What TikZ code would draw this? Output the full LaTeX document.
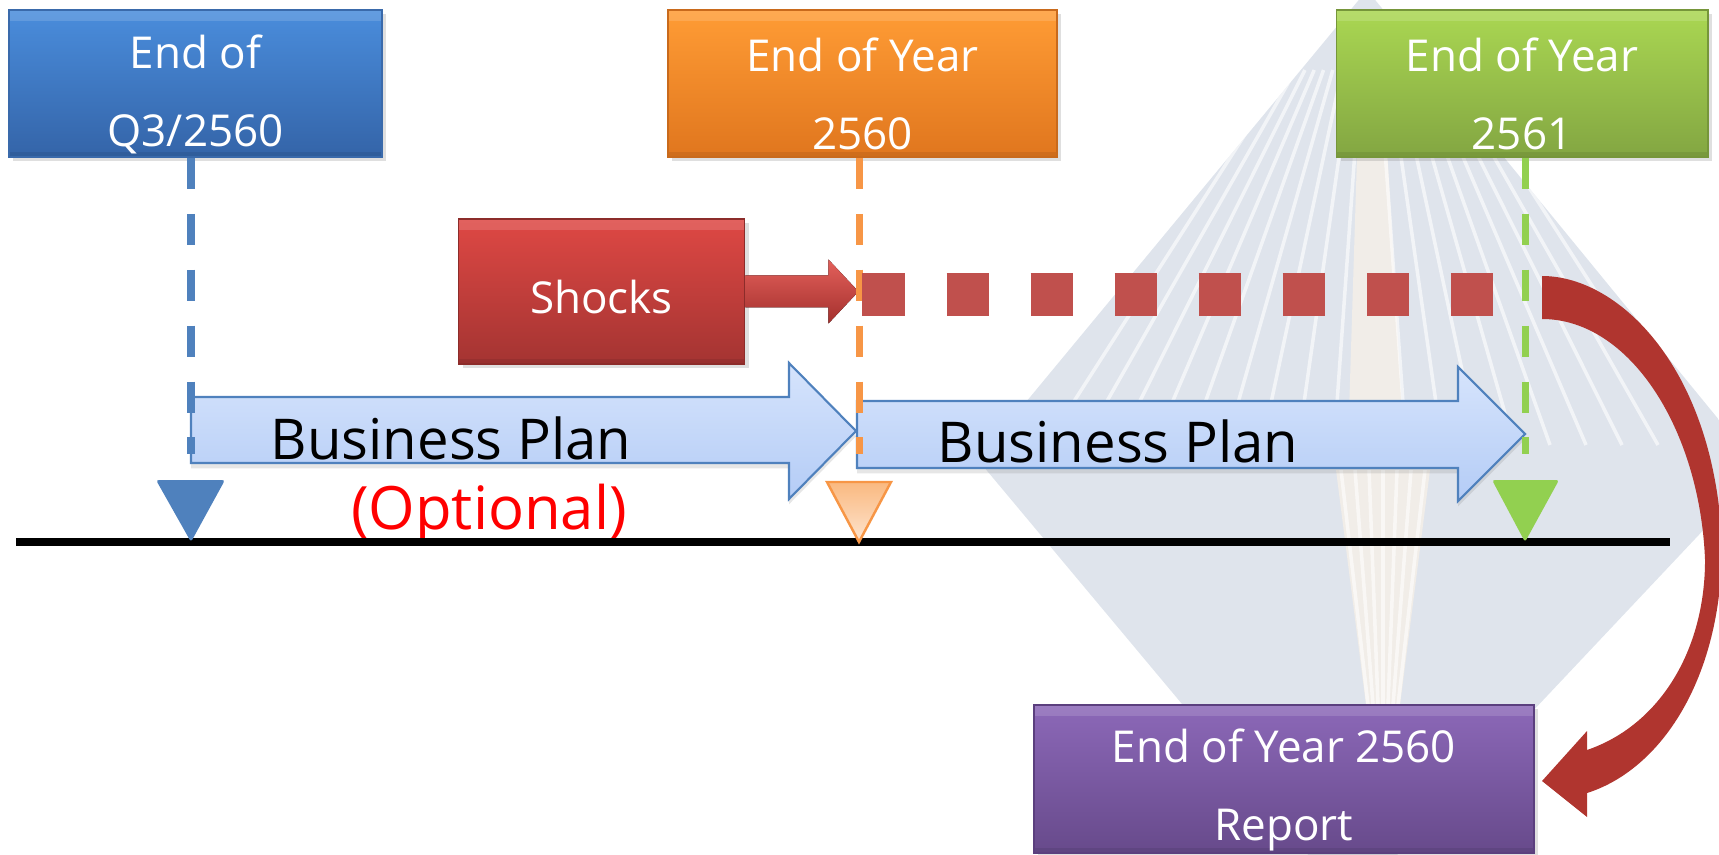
\documentclass[tikz,border=0pt]{standalone}
\usepackage{fontspec}
\setmainfont{Open Sans}
\usetikzlibrary{shadows}

\definecolor{wmgrey}{HTML}{DFE4EC}
\definecolor{planfill}{HTML}{D6E4FC}
\definecolor{planfillb}{HTML}{B4CCF6}
\definecolor{planline}{HTML}{4F81BD}
\definecolor{q3blue}{HTML}{4F81BD}
\definecolor{y60orange}{HTML}{F79646}
\definecolor{y61green}{HTML}{92D050}
\definecolor{shockred}{HTML}{C0504D}
\definecolor{loopred}{HTML}{B0352F}
\definecolor{q3top}{HTML}{4A8DDC}
\definecolor{q3bot}{HTML}{3464A8}
\definecolor{q3edge}{HTML}{3A6AAB}
\definecolor{y60top}{HTML}{FF9C35}
\definecolor{y60bot}{HTML}{E0761E}
\definecolor{y60edge}{HTML}{C96A1C}
\definecolor{y61top}{HTML}{AAD752}
\definecolor{y61bot}{HTML}{83A642}
\definecolor{y61edge}{HTML}{76963A}
\definecolor{shocktop}{HTML}{DE4844}
\definecolor{shockbot}{HTML}{A43432}
\definecolor{shockedge}{HTML}{8C2C2A}
\definecolor{arrowtop}{HTML}{E4605B}
\definecolor{arrowbot}{HTML}{A3302D}
\definecolor{reptop}{HTML}{8C68B8}
\definecolor{repbot}{HTML}{674A8B}
\definecolor{repedge}{HTML}{5B3F7E}
\definecolor{marktop}{HTML}{FAB980}
\definecolor{markbot}{HTML}{FDE4CF}
\definecolor{beam}{HTML}{F1EDE8}

\tikzset{
  datebox/.style={rectangle, inner sep=0pt,
    drop shadow={opacity=0.25, shadow xshift=1.2pt, shadow yshift=-1.2pt},
    path picture={
      \fill[white, opacity=0.14] (path picture bounding box.north west) rectangle ([yshift=-3pt]path picture bounding box.north east);
      \fill[black, opacity=0.08] (path picture bounding box.south west) rectangle ([yshift=1.5pt]path picture bounding box.south east);
    }},
  boxcolor/.style n args={3}{top color=#1, bottom color=#2, draw=#3, line width=0.5pt},
  boxtext/.style={text=white, align=center, font=\fontsize{12.5}{22.2}\selectfont, yshift=-3pt},
  plan/.style={top color=planfill, bottom color=planfillb, draw=planline, line width=0.6pt,
    drop shadow={opacity=0.2, shadow xshift=0pt, shadow yshift=-1.5pt}},
  plantext/.style={font=\fontsize{16}{19}\selectfont, anchor=base},
  tickline/.style={line width=2pt, dash pattern=on 8.8pt off 7.1pt},
  ray/.style={white, line width=1pt, opacity=0.6},
}

\begin{document}
\begin{tikzpicture}[x=0.01cm, y=-0.01cm]
\useasboundingbox (0,0) rectangle (1719,855);

% watermark
\begin{scope}
  \clip (1367,-10) -- (1760,470) -- (1350,905) -- (978,460) -- cycle;
  \fill[wmgrey] (900,-20) rectangle (1800,900);
  \fill[beam] (1360,60) -- (1382,60) -- (1404,445) -- (1348,445) -- cycle;
  \fill[beam] (1336,470) -- (1430,470) -- (1400,705) -- (1366,705) -- cycle;
  \foreach \k in {-9,...,-1,1,2,...,9}
    \draw[ray] ({1370+9.3*\k},70) -- ({1370+36*\k},445);
  \foreach \k in {-3,...,3}
    \draw[ray] ({1383+14*\k},470) -- ({1383+5*\k},705);
\end{scope}

% dates
\node[datebox, boxcolor={q3top}{q3bot}{q3edge}, minimum width=3.73cm, minimum height=1.47cm,
  label={[boxtext]center:{End of\\Q3/2560}}] (q3box) at (195.5,83.5) {};
\node[datebox, boxcolor={y60top}{y60bot}{y60edge}, minimum width=3.89cm, minimum height=1.47cm,
  label={[boxtext]center:{End of Year\\2560}}] (y60box) at (862.5,83.5) {};
\node[datebox, boxcolor={y61top}{y61bot}{y61edge}, minimum width=3.71cm, minimum height=1.47cm,
  label={[boxtext]center:{End of Year\\2561}}] (y61box) at (1522,83.5) {};

% shocks
\node[datebox, boxcolor={shocktop}{shockbot}{shockedge}, minimum width=2.86cm, minimum height=1.45cm,
  label={[boxtext, yshift=1.5pt]center:Shocks}] (shocks) at (601.5,291.5) {};
\fill[top color=arrowtop, bottom color=arrowbot] (shocks.east) ++(0,-16) -- ++(83,0) -- ++(0,-16) -- ++(30,32) -- ++(-30,32) -- ++(0,-16) -- ++(-83,0) -- cycle;
\path (shocks.east) ++(113,0) coordinate (hit);

% plans
\path[plan] (191,397) -- (789,397) -- (789,363) -- (856,431) -- (789,499) -- (789,463) -- (191,463) -- cycle;
\path[plan] (857,401) -- (1458,401) -- (1458,367) -- (1525,434) -- (1458,501) -- (1458,468) -- (857,468) -- cycle;
\node[plantext] (plan1) at (451,459) {Business Plan};
\node[plantext] (plan2) at (1118,462) {Business Plan};
\node[plantext, text=red, font=\fontsize{17}{20}\selectfont] (optional) at (489,529) {(Optional)};

% time marks
\coordinate (t1) at (191,542);
\coordinate (t2) at (859,542);
\coordinate (t3) at (1525,542);
\draw[tickline, q3blue] (t1 |- q3box.south) -- ++(0,296);
\draw[tickline, y60orange] (t2 |- y60box.south) -- ++(0,296);
\draw[tickline, y61green] (t3 |- y61box.south) -- ++(0,296);
\draw[shockred, line width=11.95pt, dash pattern=on 11.95pt off 11.95pt] (hit) ++(4,3) -- ++(631,0);

\draw[line width=2.3pt] (16,542) -- (1670,542);
\fill[q3blue, rounded corners=0.8pt] (t1) ++(-35,-62) -- ++(69,0) -- (t1) -- cycle;
\draw[y60orange, line width=0.7pt, top color=marktop, bottom color=markbot] (t2) ++(-32,-60) -- ++(64,0) -- (t2) -- cycle;
\fill[y61green, rounded corners=0.8pt] (t3) ++(-33,-62) -- ++(67,0) -- (t3) -- cycle;

% report
\fill[loopred] (1542,276) .. controls (1620,276) and (1715,370) .. (1722,545)
  .. controls (1722,680) and (1660,770) .. (1587,793) -- (1587,817) -- (1542,781)
  -- (1587,731) -- (1587,750) .. controls (1660,725) and (1705,650) .. (1705,560)
  .. controls (1700,430) and (1630,319) .. (1542,319) -- cycle;
\node[datebox, boxcolor={reptop}{repbot}{repedge}, minimum width=5cm, minimum height=1.48cm,
  label={[boxtext]center:{End of Year 2560\\Report}}] (report) at (1284,779) {};
\end{tikzpicture}
\end{document}
